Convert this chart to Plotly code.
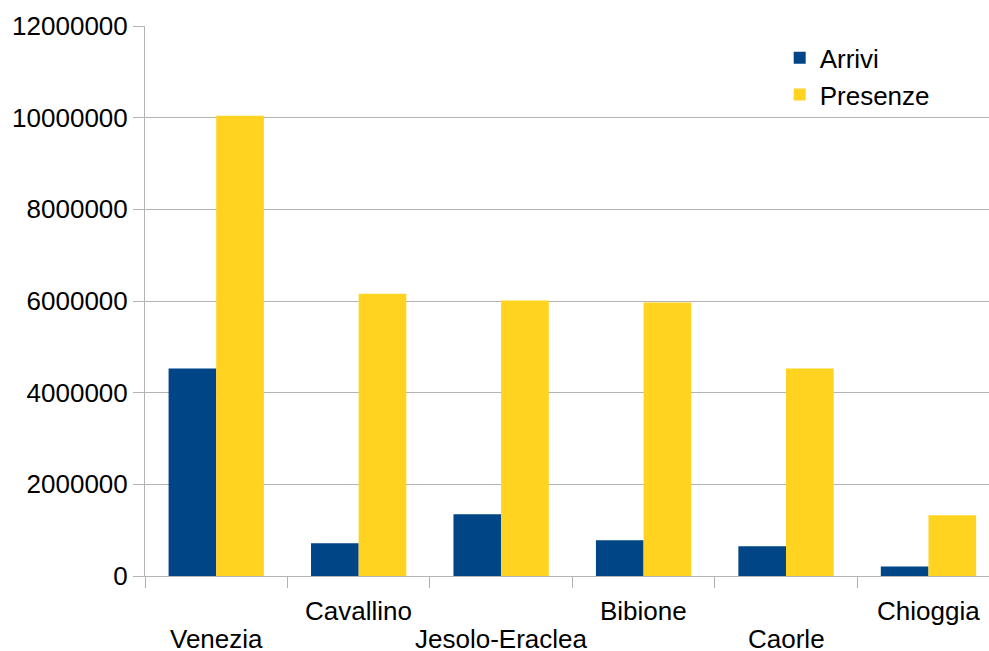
import plotly.graph_objects as go

categories = ["Venezia", "Cavallino", "Jesolo-Eraclea", "Bibione", "Caorle", "Chioggia"]
arrivi = [4530000, 713000, 1350000, 780000, 647000, 210000]
presenze = [10040000, 6160000, 6010000, 5970000, 4530000, 1325000]
y_ticks = [0, 2000000, 4000000, 6000000, 8000000, 10000000, 12000000]

FONT = "Liberation Sans, Arial, sans-serif"
GRID = "#b3b3b3"
FS = 26

fig = go.Figure()
fig.add_trace(go.Bar(name="Arrivi", x=categories, y=arrivi, marker_color="#004586", marker_line_width=0))
fig.add_trace(go.Bar(name="Presenze", x=categories, y=presenze, marker_color="#ffd320", marker_line_width=0))

W, H = 989, 651
ml, mt, mb = 145.3, 25.7, 75.3
plot_h = H - mt - mb

# staggered category labels
for i, c in enumerate(categories):
    below = 34.5 if i % 2 == 1 else 63.0
    fig.add_annotation(x=c, xref="x", y=-below / plot_h, yref="paper",
                       text=c, showarrow=False, xanchor="center", yanchor="middle",
                       font=dict(family=FONT, size=FS, color="#000000"))

fig.update_layout(
    width=W, height=H,
    margin=dict(l=ml, r=0, t=mt, b=mb, pad=0),
    paper_bgcolor="white", plot_bgcolor="white",
    barmode="group", bargap=0.331, bargroupgap=0,
    font=dict(family=FONT, size=FS, color="#000000"),
    legend=dict(x=0.752, y=0.985, xanchor="left", yanchor="top",
                bgcolor="rgba(0,0,0,0)", font=dict(family=FONT, size=FS),
                itemclick=False, tracegroupgap=0),
    xaxis=dict(
        type="category", range=[-0.5, 5.425],
        showticklabels=False, showgrid=False,
        showline=True, linecolor=GRID, linewidth=1,
        ticks="outside", tickson="boundaries", ticklen=11, tickcolor=GRID, tickwidth=1,
    ),
    yaxis=dict(
        range=[0, 12000000], tickvals=y_ticks, tickformat="d",
        showgrid=True, gridcolor=GRID, gridwidth=1,
        showline=True, linecolor=GRID, linewidth=1,
        ticks="outside", ticklen=11, tickcolor=GRID, tickwidth=1,
        zeroline=False,
        tickfont=dict(family=FONT, size=FS),
    ),
)

fig.write_html("out.html")
